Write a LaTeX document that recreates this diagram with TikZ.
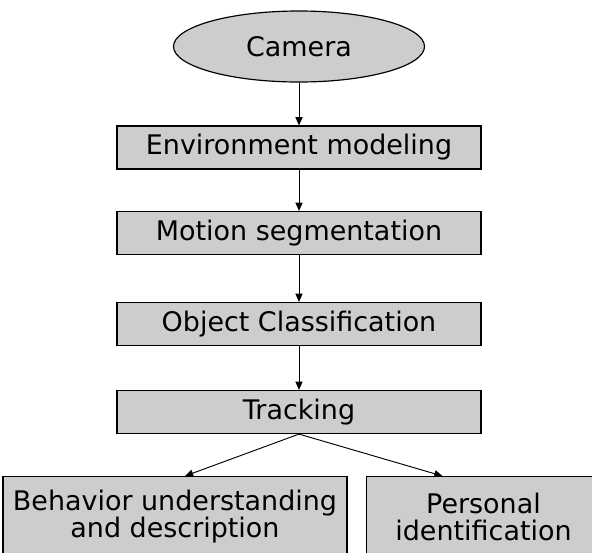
\documentclass[tikz,border=0pt]{standalone}
\usepackage{fontspec}
\setmainfont{DejaVu Sans}
\usepackage{xcolor}
\usetikzlibrary{
    arrows.meta,
    calc,
    shapes.geometric
}
\definecolor{scanGray}{RGB}{205, 205, 205}

\begin{document}
\begin{tikzpicture}[x=0.03cm, y=-0.03cm, >={Triangle[length=7pt, width=6pt]},
    stage/.style={draw, line width=1pt, fill=scanGray, inner sep=0pt,
        minimum width=10.92cm, minimum height=1.29cm,
        font=\fontsize{23}{23}\selectfont},
    source/.style={ellipse, draw, line width=1pt, fill=scanGray, inner sep=0pt,
        minimum width=7.53cm, minimum height=2.13cm,
        font=\fontsize{23}{23}\selectfont},
    result/.style={stage, anchor=north, align=center, minimum height=2.4cm},
    flow/.style={->, line width=0.8pt}]
            % 画面の範囲
            \clip (0,0) rectangle (592,552);

            % 処理の段
            \node[source] (camera) at (299,46.5) {Camera};
            \node[stage] (env) at (299,147.5) {Environment modeling};
            \node[stage] (motion) at (299,233) {Motion segmentation};
            \node[stage] (object) at (299,324) {Object Classification};
            \node[stage] (track) at (299,412) {Tracking};

            % 下の二つ (下端と右端は画面の外)
            \node[result, minimum width=10.32cm] (behave) at (175,476)
                {Behavior understanding\\and description};
            \node[result, minimum width=7.0cm] (person) at (483.5,476)
                {Personal\\identification};

            % 矢印
            \draw[flow] (camera) -- (env);
            \draw[flow] (env) -- (motion);
            \draw[flow] (motion) -- (object);
            \draw[flow] (object) -- (track);
            \draw[flow] (track.south) -- ($(behave.north)+(10,0)$);
            \draw[flow] (track.south) -- ($(person.north)+(-41,0)$);
        \end{tikzpicture}
\end{document}
